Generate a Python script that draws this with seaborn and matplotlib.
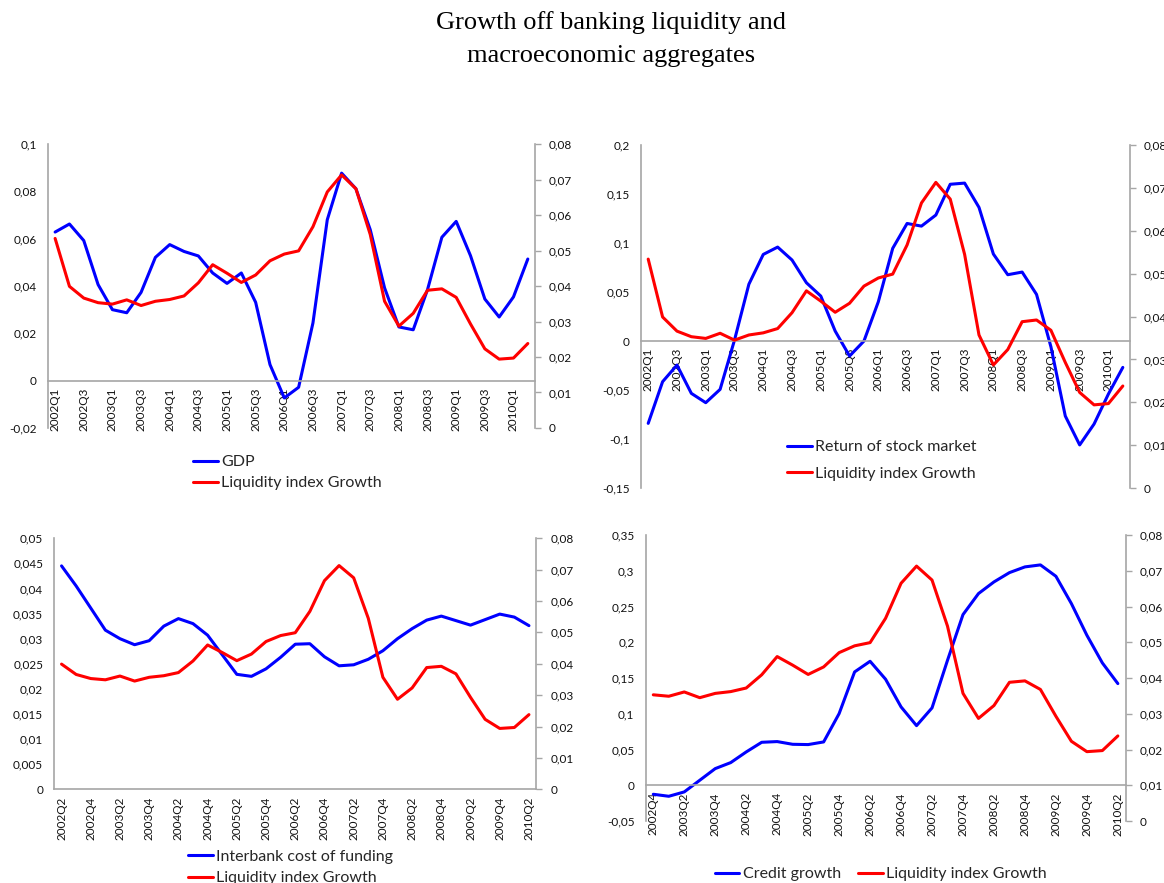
import numpy as np
import pandas as pd
import matplotlib
matplotlib.use("Agg")
import matplotlib.pyplot as plt
import seaborn as sns
from matplotlib.ticker import FuncFormatter

# ---------------------------------------------------------
# data
# ---------------------------------------------------------
quarters = [
    "2002Q1", "2002Q2", "2002Q3", "2002Q4", "2003Q1", "2003Q2", "2003Q3", "2003Q4",
    "2004Q1", "2004Q2", "2004Q3", "2004Q4", "2005Q1", "2005Q2", "2005Q3", "2005Q4",
    "2006Q1", "2006Q2", "2006Q3", "2006Q4", "2007Q1", "2007Q2", "2007Q3", "2007Q4",
    "2008Q1", "2008Q2", "2008Q3", "2008Q4", "2009Q1", "2009Q2", "2009Q3", "2009Q4",
    "2010Q1", "2010Q2",
]

# liquidity index growth, 2002Q1 - 2010Q2 (right axis in every panel)
liquidity = [
    0.0534, 0.0399, 0.0366, 0.0353, 0.0349, 0.0361, 0.0345, 0.0357,
    0.0362, 0.0372, 0.0409, 0.0460, 0.0436, 0.0410, 0.0431, 0.0471,
    0.0490, 0.0499, 0.0567, 0.0665, 0.0713, 0.0674, 0.0545, 0.0357,
    0.0287, 0.0323, 0.0388, 0.0392, 0.0368, 0.0293, 0.0223, 0.0194,
    0.0197, 0.0238,
]

# GDP, 2002Q1 - 2010Q2
gdp = [
    0.0628, 0.0662, 0.0592, 0.0406, 0.0300, 0.0287, 0.0373, 0.0521,
    0.0575, 0.0546, 0.0527, 0.0455, 0.0411, 0.0455, 0.0331, 0.0068,
    -0.0073, -0.0028, 0.0244, 0.0680, 0.0877, 0.0811, 0.0638, 0.0392,
    0.0227, 0.0215, 0.0385, 0.0606, 0.0673, 0.0528, 0.0345, 0.0269,
    0.0354, 0.0514,
]

# return of stock market, 2002Q1 - 2010Q2
stock = [
    -0.0840, -0.0415, -0.0245, -0.0534, -0.0629, -0.0493, 0.0010, 0.0580,
    0.0884, 0.0959, 0.0827, 0.0595, 0.0459, 0.0102, -0.0153, 0.0000,
    0.0401, 0.0946, 0.1200, 0.1173, 0.1286, 0.1600, 0.1612, 0.1364,
    0.0888, 0.0677, 0.0704, 0.0476, -0.0058, -0.0765, -0.1060, -0.0847,
    -0.0540, -0.0269,
]

# interbank cost of funding, 2002Q2 - 2010Q2
interbank = [
    0.0445, 0.0405, 0.0361, 0.0317, 0.0300, 0.0288, 0.0296, 0.0325,
    0.0340, 0.0330, 0.0307, 0.0268, 0.0229, 0.0225, 0.0240, 0.0263,
    0.0289, 0.0290, 0.0264, 0.0246, 0.0248, 0.0259, 0.0276, 0.0300,
    0.0320, 0.0337, 0.0345, 0.0336, 0.0327, 0.0338, 0.0349, 0.0343,
    0.0326,
]

# credit growth, 2002Q4 - 2010Q2
credit = [
    -0.0126, -0.0154, -0.0093, 0.0070, 0.0233, 0.0317, 0.0466, 0.0601,
    0.0611, 0.0573, 0.0569, 0.0606, 0.1002, 0.1585, 0.1734, 0.1483,
    0.1096, 0.0834, 0.1082, 0.1748, 0.2387, 0.2681, 0.2844, 0.2974,
    0.3054, 0.3082, 0.2923, 0.2541, 0.2098, 0.1711, 0.1422,
]

LIQ_LABEL = "Liquidity index Growth"
BLUE = "#0000FF"
RED = "#FF0000"
GREY = "#A6A6A6"

# ---------------------------------------------------------
# style
# ---------------------------------------------------------
sns.set_theme(style="white")
plt.rcParams["font.family"] = ["Lato", "DejaVu Sans"]


def comma_fmt(v, pos):
    v = round(v, 4)
    if v == 0:
        return "0"
    return f"{v:g}".replace(".", ",")


fig = plt.figure(figsize=(11.64, 8.83), dpi=100)

LEG_KW = dict(loc="upper left", frameon=False, fontsize=11.5, handlelength=1.55,
              handletextpad=0.2, borderpad=0, borderaxespad=0)


def draw_panel(rect, qs, main, liq, lo, hi, step):
    ax = fig.add_axes(rect)
    df = pd.DataFrame({"pos": np.arange(len(qs)), "main": main, "liq": liq})
    sns.lineplot(data=df, x="pos", y="main", ax=ax, color=BLUE,
                 linewidth=2.2, legend=False)
    ax2 = ax.twinx()
    sns.lineplot(data=df, x="pos", y="liq", ax=ax2, color=RED,
                 linewidth=2.2, legend=False)

    # category axis sits on the zero line (set before tick labels: it resets ticks)
    ax.spines["bottom"].set_position(("data", 0))

    ax.set_xlim(-0.5, len(qs) - 0.5)
    ax.set_ylim(lo, hi)
    ax.set_yticks(np.arange(lo, hi + step / 2, step))
    ax2.set_ylim(0, 0.08)
    ax2.set_yticks(np.arange(0, 0.0801, 0.01))
    ax.yaxis.set_major_formatter(FuncFormatter(comma_fmt))
    ax2.yaxis.set_major_formatter(FuncFormatter(comma_fmt))

    ax.set_xticks(np.arange(0, len(qs), 2))
    ax.set_xticklabels(qs[::2])
    ax.set_xlabel("")
    ax.set_ylabel("")
    ax2.set_ylabel("")

    for s in ["top", "right"]:
        ax.spines[s].set_visible(False)
    for s in ["top", "left", "bottom"]:
        ax2.spines[s].set_visible(False)
    for sp in [ax.spines["left"], ax.spines["bottom"], ax2.spines["right"]]:
        sp.set_color(GREY)
        sp.set_linewidth(1.2)

    ax.tick_params(axis="y", length=0, pad=8, labelsize=8.5, labelcolor="#111111")
    ax.tick_params(axis="x", length=0, pad=5, labelsize=8.5, labelcolor="#111111",
                   labelrotation=90)
    ax2.tick_params(axis="y", right=True, length=4, width=1, color=GREY,
                    pad=6, labelsize=8.5, labelcolor="#111111")
    return ax, ax2


# ---------------------------------------------------------
# panels
# ---------------------------------------------------------
ax, ax2 = draw_panel([0.0412, 0.5153, 0.4184, 0.3216], quarters, gdp, liquidity,
                     -0.02, 0.10, 0.02)
fig.legend([ax.lines[0], ax2.lines[0]], ["GDP", LIQ_LABEL],
           bbox_to_anchor=(0.1658, 0.4848), labelspacing=0.45, **LEG_KW)

ax, ax2 = draw_panel([0.5507, 0.4473, 0.4201, 0.3884], quarters, stock, liquidity,
                     -0.15, 0.20, 0.05)
fig.legend([ax.lines[0], ax2.lines[0]], ["Return of stock market", LIQ_LABEL],
           bbox_to_anchor=(0.676, 0.5018), labelspacing=0.8, **LEG_KW)

ax, ax2 = draw_panel([0.0466, 0.1061, 0.4141, 0.2843], quarters[1:], interbank,
                     liquidity[1:], 0.0, 0.05, 0.005)
fig.legend([ax.lines[0], ax2.lines[0]], ["Interbank cost of funding", LIQ_LABEL],
           bbox_to_anchor=(0.1615, 0.0375), labelspacing=0.45, **LEG_KW)

ax, ax2 = draw_panel([0.5546, 0.0702, 0.4124, 0.3239], quarters[3:], credit,
                     liquidity[3:], -0.05, 0.35, 0.05)
fig.legend([ax.lines[0], ax2.lines[0]], ["Credit growth", LIQ_LABEL],
           bbox_to_anchor=(0.614, 0.0178), ncol=2, columnspacing=1.1, **LEG_KW)

fig.text(0.525, 1 - 39 / 883,
         "Growth off banking liquidity and\nmacroeconomic aggregates",
         ha="center", va="center", fontsize=19, linespacing=1.6,
         family="Liberation Serif", color="black")

fig.savefig("out.png", dpi=100)
